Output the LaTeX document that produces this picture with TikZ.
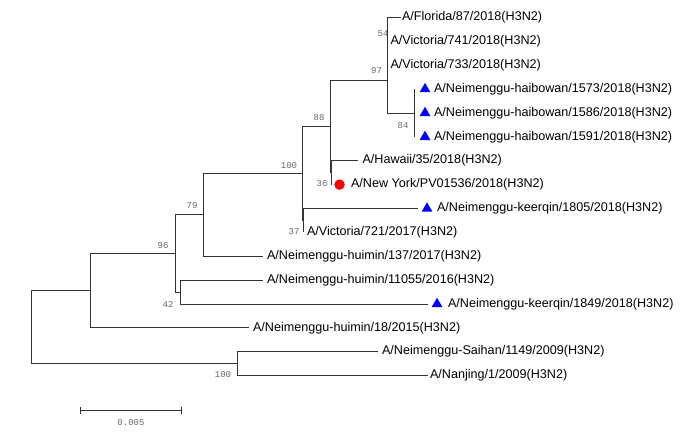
\documentclass[tikz,border=0pt]{standalone}
\usepackage{fontspec}
\setmainfont{Liberation Sans}
\newfontfamily\bootfont{Liberation Mono}
\usetikzlibrary{shapes.geometric, arrows.meta}

\begin{document}
\begin{tikzpicture}[x=1pt, y=-1pt]
  \useasboundingbox (0,0) rectangle (695,433);
  \begin{scope}[every node/.style={inner sep=0, outer sep=0}, leaf/.style={anchor=west, font=\fontsize{12.6}{14}\selectfont}, boot/.style={text=black!60, font=\bootfont\fontsize{9}{10}\selectfont}, tri/.style={regular polygon, regular polygon sides=3, fill=blue, minimum size=12.5pt}, dot/.style={circle, fill=red, minimum size=10.5pt}, branch/.style={black!80, line width=0.9pt}]
    \coordinate (root) at (31,327.1);
    \coordinate (nA) at (90,290.6);
    \coordinate (nB) at (237,363.6);
    \coordinate (n96) at (175,253.4);
    \coordinate (n79) at (203,214.8);
    \coordinate (n42) at (180,292);
    \coordinate (n100) at (302,173.4);
    \coordinate (n37) at (303,220.4);
    \coordinate (n88) at (330,126.4);
    \coordinate (n36) at (331,172.7);
    \coordinate (n97) at (387,80.2);
    \coordinate (nX) at (387,47.4);
    \coordinate (n54) at (387,29.5);
    \coordinate (n84) at (414,113);
    \coordinate (e1) at (400.5,17.5);
    \coordinate (e2) at (387,41.4);
    \coordinate (e3) at (387,65.2);
    \coordinate (e4) at (414,89.1);
    \coordinate (e5) at (414,113);
    \coordinate (e6) at (414,136.9);
    \coordinate (e7) at (358,160.7);
    \coordinate (e8) at (331,184.6);
    \coordinate (e9) at (418,208.5);
    \coordinate (e10) at (303,232.3);
    \coordinate (e11) at (263,256.2);
    \coordinate (e12) at (263,280.1);
    \coordinate (e13) at (428,304);
    \coordinate (e14) at (249,327.8);
    \coordinate (e15) at (378,351.7);
    \coordinate (e16) at (428,375.6);
    \foreach \p/\c in {root/nA, root/nB, nA/n96, nA/e14, n96/n79, n96/n42, n79/n100, n79/e11, n42/e12, n42/e13, n100/n88, n100/n37, n37/e9, n37/e10, n88/n97, n88/n36, n36/e7, n36/e8, n97/nX, n97/n84, nX/n54, nX/e3, n54/e1, n54/e2, n84/e4, n84/e5, n84/e6, nB/e15, nB/e16} {\draw [branch] (\p) |- (\c);}
    \node [leaf] (t1) at (402,17.5) {A/Florida/87/2018(H3N2)};
    \node [leaf] (t2) at (390.5,41.4) {A/Victoria/741/2018(H3N2)};
    \node [leaf] (t3) at (390.5,65.2) {A/Victoria/733/2018(H3N2)};
    \node [leaf] (t4) at (434,89.1) {A/Neimenggu-haibowan/1573/2018(H3N2)};
    \node [leaf] (t5) at (434,113) {A/Neimenggu-haibowan/1586/2018(H3N2)};
    \node [leaf] (t6) at (434,136.9) {A/Neimenggu-haibowan/1591/2018(H3N2)};
    \node [leaf] (t7) at (362.5,160.7) {A/Hawaii/35/2018(H3N2)};
    \node [leaf] (t8) at (351,184.6) {A/New York/PV01536/2018(H3N2)};
    \node [leaf] (t9) at (437,208.5) {A/Neimenggu-keerqin/1805/2018(H3N2)};
    \node [leaf] (t10) at (307,232.3) {A/Victoria/721/2017(H3N2)};
    \node [leaf] (t11) at (267,256.2) {A/Neimenggu-huimin/137/2017(H3N2)};
    \node [leaf] (t12) at (267,280.1) {A/Neimenggu-huimin/11055/2016(H3N2)};
    \node [leaf] (t13) at (448,304) {A/Neimenggu-keerqin/1849/2018(H3N2)};
    \node [leaf] (t14) at (253,327.8) {A/Neimenggu-huimin/18/2015(H3N2)};
    \node [leaf] (t15) at (382,351.7) {A/Neimenggu-Saihan/1149/2009(H3N2)};
    \node [leaf] (t16) at (430,375.6) {A/Nanjing/1/2009(H3N2)};
    \node [tri] (m4) at (425,89.1) {};
    \node [tri] (m5) at (425,113) {};
    \node [tri] (m6) at (425,136.9) {};
    \node [tri] (m9) at (427,208.5) {};
    \node [tri] (m13) at (437,304) {};
    \node [dot] (m8) at (339.5,184.6) {};
    \node [boot] (b54) at (383,34) {54};
    \node [boot] (b97) at (376.5,71) {97};
    \node [boot] (b84) at (403,126) {84};
    \node [boot] (b88) at (319,118) {88};
    \node [boot] (b36) at (322,184) {36};
    \node [boot] (b100) at (289,166) {100};
    \node [boot] (b37) at (294,232) {37};
    \node [boot] (b79) at (192,206) {79};
    \node [boot] (b96) at (163,246) {96};
    \node [boot] (b42) at (168,304) {42};
    \node [boot] (bB) at (223,375) {100};
  \end{scope}
  \coordinate (s1) at (80,410);
  \coordinate (s2) at (182,410);
  \draw [black!80, line width=0.9pt, {Bar[width=7pt]}-{Bar[width=7pt]}] (s1) -- (s2);
  \node [text=black!60, font=\bootfont\fontsize{9}{10}\selectfont] (sl) at (131,423) {0.005};
\end{tikzpicture}
\end{document}
